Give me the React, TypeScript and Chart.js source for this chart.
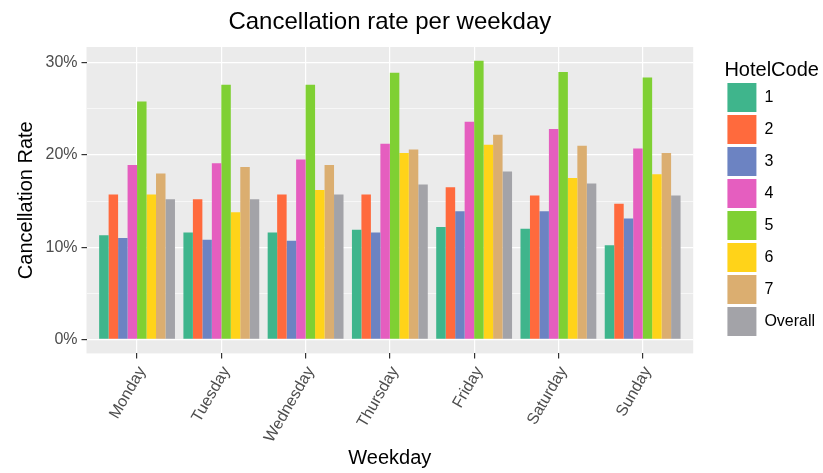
import React, { useEffect, useRef } from 'react';
import { Chart, registerables } from 'chart.js';

Chart.register(...registerables);

const weekdays = ['Monday', 'Tuesday', 'Wednesday', 'Thursday', 'Friday', 'Saturday', 'Sunday'];
const hotelCodes = ['1', '2', '3', '4', '5', '6', '7', 'Overall'];

// cancellation rate (%) per weekday, Monday..Sunday
const hotel1 = [11.3, 11.6, 11.6, 11.9, 12.2, 12.0, 10.2];
const hotel2 = [15.7, 15.2, 15.7, 15.7, 16.5, 15.6, 14.7];
const hotel3 = [11.0, 10.8, 10.7, 11.6, 13.9, 13.9, 13.1];
const hotel4 = [18.9, 19.1, 19.5, 21.2, 23.6, 22.8, 20.7];
const hotel5 = [25.8, 27.6, 27.6, 28.9, 30.2, 29.0, 28.4];
const hotel6 = [15.7, 13.8, 16.2, 20.2, 21.1, 17.5, 17.9];
const hotel7 = [18.0, 18.7, 18.9, 20.6, 22.2, 21.0, 20.2];
const overall = [15.2, 15.2, 15.7, 16.8, 18.2, 16.9, 15.6];

const seriesValues = [hotel1, hotel2, hotel3, hotel4, hotel5, hotel6, hotel7, overall];
const seriesColors = ['#3FB58C', '#FF6A3D', '#6C83C2', '#E55EBF', '#7FD033', '#FFD319', '#DBAE70', '#A3A3A8'];

const yTickValues = [0, 5, 10, 15, 20, 25, 30];
const yMajorTicks = [0, 10, 20, 30];

const FONT = "'Liberation Sans', Arial, Helvetica, sans-serif";

const panelBackground = {
  id: 'panelBackground',
  beforeDraw(chart: any) {
    const { ctx, chartArea: a } = chart;
    ctx.save();
    ctx.fillStyle = '#EBEBEB';
    ctx.fillRect(a.left, a.top, a.right - a.left, a.bottom - a.top);
    ctx.restore();
  },
};

export default function App() {
  const canvasRef = useRef<HTMLCanvasElement | null>(null);

  useEffect(() => {
    if (!canvasRef.current) return;
    Chart.defaults.font.family = FONT;

    const datasets = hotelCodes.map((code, s) => ({
      label: code,
      data: weekdays.map((_, i) => ({ x: i, y: seriesValues[s][i] })),
      backgroundColor: seriesColors[s],
      borderWidth: 0,
      categoryPercentage: 0.9,
      barPercentage: 1.0,
      xAxisID: 'x',
      yAxisID: 'y',
    }));

    const chart = new Chart(canvasRef.current, {
      type: 'bar',
      data: { datasets },
      plugins: [panelBackground],
      options: {
        animation: false,
        responsive: false,
        layout: { padding: { left: 0, right: -2.1, top: 0, bottom: 0 } },
        plugins: {
          title: {
            display: true,
            text: 'Cancellation rate per weekday',
            fullSize: false,
            color: '#000000',
            font: { size: 24, weight: 'normal', lineHeight: 1.2 },
            padding: { top: 7.6, bottom: 10.6 },
          },
          legend: {
            position: 'right',
            align: 'start',
            title: {
              display: true,
              text: 'HotelCode',
              color: '#000000',
              position: 'start',
              font: { size: 20, lineHeight: 1 },
              padding: { top: 60, bottom: 0 },
            },
            labels: {
              boxWidth: 29,
              boxHeight: 29,
              padding: 3,
              color: '#000000',
              font: { size: 16 },
            },
          },
          tooltip: { enabled: false },
        },
        scales: {
          x: {
            type: 'linear',
            position: 'bottom',
            bounds: 'data',
            offset: false,
            min: -0.6,
            max: 6.6,
            afterBuildTicks: (axis: any) => {
              axis.ticks = weekdays.map((_, i) => ({ value: i }));
            },
            afterFit: (axis: any) => {
              axis.height = 119.6;
            },
            ticks: {
              autoSkip: false,
              minRotation: 60,
              maxRotation: 60,
              padding: 5,
              labelOffset: 5,
              color: '#4D4D4D',
              font: { size: 16 },
              callback: (v: any) => weekdays[Math.round(Number(v))] ?? '',
            },
            grid: {
              offset: false,
              color: '#FFFFFF',
              lineWidth: 1.2,
              tickColor: '#333333',
              tickLength: 5,
              tickWidth: 1.2,
            },
            border: { display: false },
            title: {
              display: true,
              text: 'Weekday',
              color: '#000000',
              font: { size: 20 },
              padding: { top: 0, bottom: 2.6 },
            },
          },
          y: {
            type: 'linear',
            position: 'left',
            bounds: 'data',
            min: -1.51,
            max: 31.7,
            afterBuildTicks: (axis: any) => {
              axis.ticks = yTickValues.map((v) => ({ value: v }));
            },
            afterFit: (axis: any) => {
              axis.width = 86.5;
            },
            ticks: {
              autoSkip: false,
              padding: 4,
              color: '#4D4D4D',
              font: { size: 16 },
              callback: (v: any) => (yMajorTicks.includes(Number(v)) ? `${v}%` : ''),
            },
            grid: {
              color: '#FFFFFF',
              lineWidth: (c: any) => (yMajorTicks.includes(c.tick?.value) ? 1.2 : 0.6),
              tickColor: (c: any) => (yMajorTicks.includes(c.tick?.value) ? '#333333' : 'rgba(0,0,0,0)'),
              tickLength: 5,
              tickWidth: 1.2,
            },
            border: { display: false },
            title: {
              display: true,
              text: 'Cancellation Rate',
              color: '#000000',
              font: { size: 20 },
              padding: { top: 14.6, bottom: 0 },
            },
          },
          gap: {
            type: 'linear',
            position: 'right',
            display: true,
            min: 0,
            max: 1,
            afterFit: (axis: any) => {
              axis.width = 31.2;
            },
            ticks: { display: false },
            grid: { display: false, drawTicks: false },
            border: { display: false },
          },
        },
      } as any,
    });

    return () => chart.destroy();
  }, []);

  return (
    <div style={{ position: 'fixed', left: 0, top: 0, width: 823, height: 473, background: '#FFFFFF' }}>
      <canvas ref={canvasRef} width={823} height={473} style={{ display: 'block' }} />
    </div>
  );
}
